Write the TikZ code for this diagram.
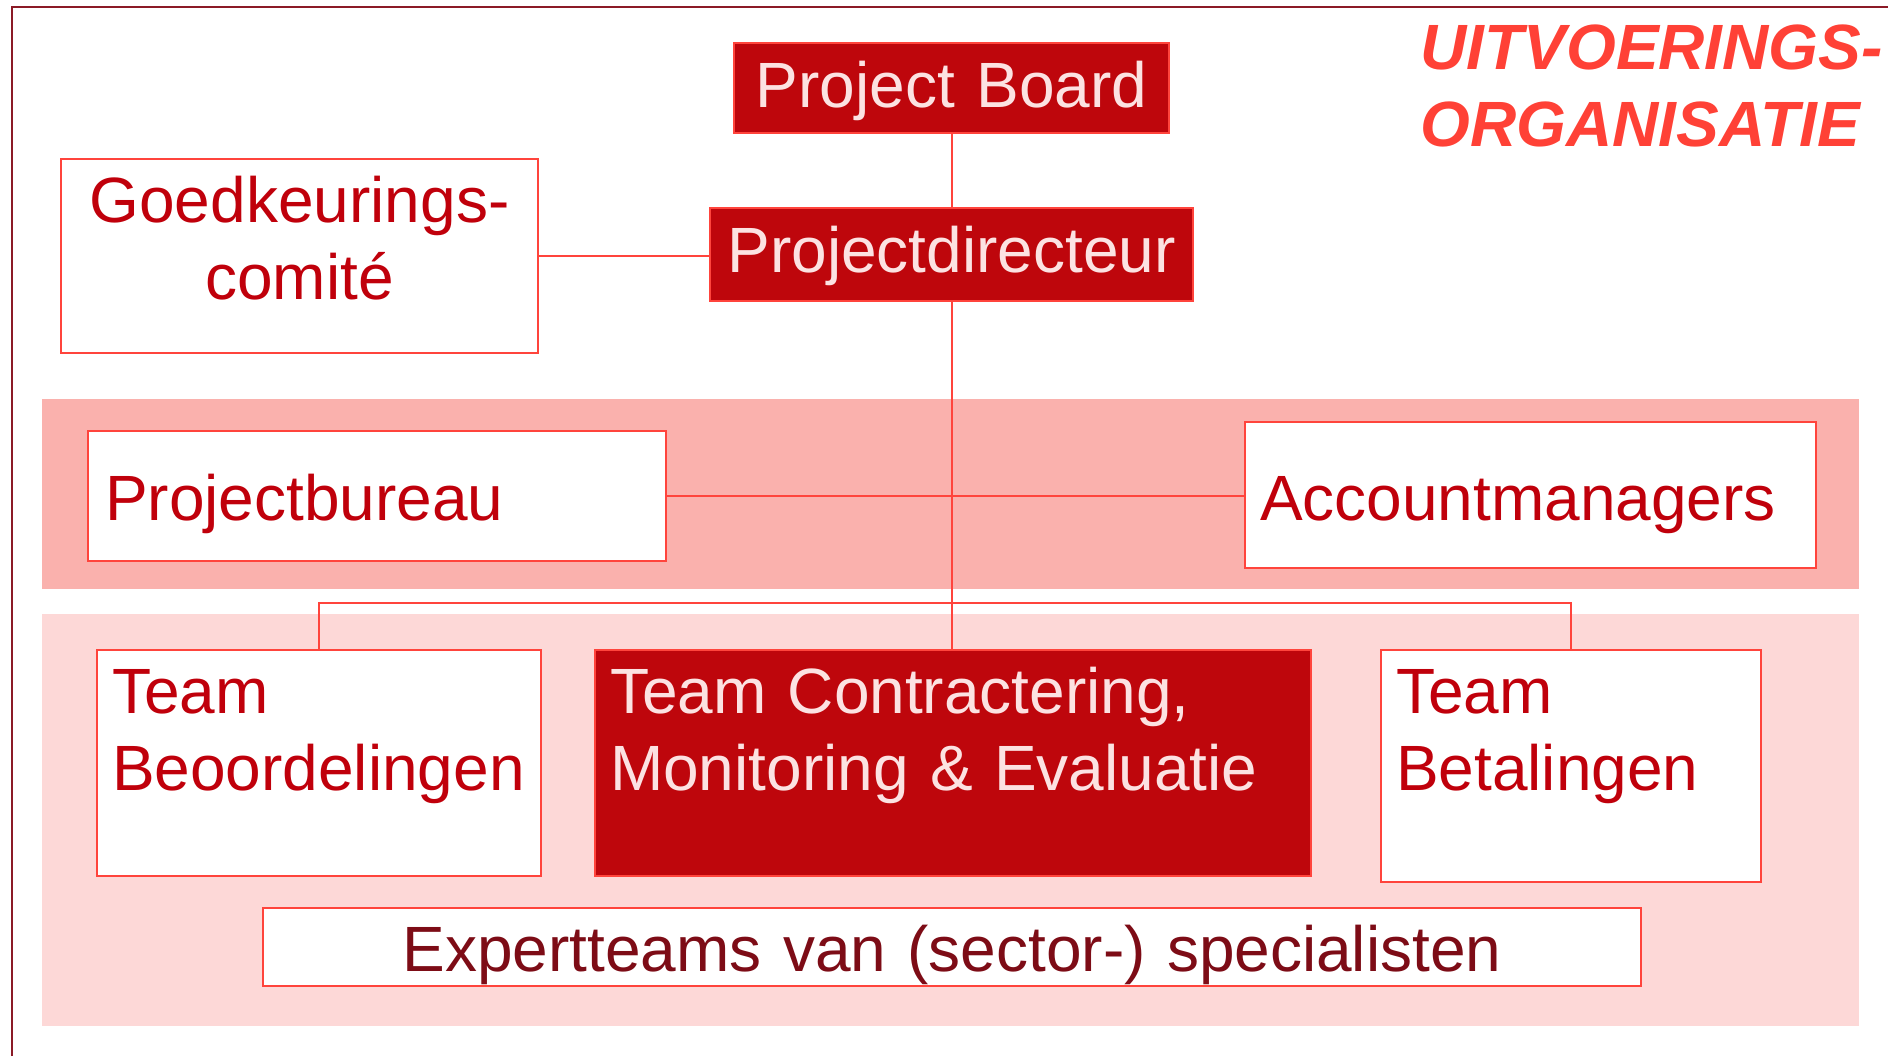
\documentclass[tikz,border=0pt]{standalone}
\usepackage{fontspec}
\setmainfont{Liberation Sans}
\usepackage{xcolor}
\definecolor{boardred}{RGB}{190,6,12}
\definecolor{inkred}{RGB}{192,0,11}
\definecolor{edgered}{RGB}{255,68,60}
\definecolor{titlered}{RGB}{255,65,54}
\definecolor{paletext}{RGB}{252,226,226}
\definecolor{bandone}{RGB}{250,177,173}
\definecolor{bandtwo}{RGB}{253,216,215}
\definecolor{expertink}{RGB}{125,12,22}
\definecolor{framered}{RGB}{139,26,38}

\begin{document}
\begin{tikzpicture}[x=0.5pt, y=-0.5pt,
        unit/.style={draw=edgered, line width=1pt, fill=white, text=inkred, inner sep=0pt,
            anchor=north west, font=\fontsize{32}{38.5}\selectfont},
        lead/.style={unit, fill=boardred, text=paletext},
        link/.style={draw=edgered, line width=1pt}]
    \useasboundingbox (0,0) rectangle (1888,1056);
    \fill[bandone] (42,399) rectangle (1859,589);
    \fill[bandtwo] (42,614) rectangle (1859,1026);
    \draw[framered, line width=1.2pt] (12,1056) -- (12,7) -- (1888,7);

    \node[text=titlered, font=\fontsize{32}{38.5}\selectfont\bfseries\itshape, align=left,
        inner sep=0pt, text width=236pt, anchor=base west] (title) at (1420,69) {UITVOERINGS-\\ORGANISATIE};

    \node[lead, align=center, text width=217.5pt, text height=32pt, text depth=13pt] (pb) at (733,42) {Project Board};
    \node[lead, align=center, text width=241.5pt, text height=32pt, text depth=14.5pt] (pd) at (709,207) {Projectdirecteur};
    \node[unit, align=center, text width=238.5pt, text height=31.5pt, text depth=65.5pt] (gk) at (60,158) {Goedkeurings-\\comité};
    \node[unit, align=left, inner xsep=8.5pt, text width=272pt, text height=44.5pt, text depth=20.5pt] (pbu) at (87,430) {Projectbureau};
    \node[unit, align=left, inner xsep=7.5pt, text width=270.5pt, text height=49pt, text depth=24pt] (am) at (1244,421) {Accountmanagers};
    \node[unit, align=left, inner xsep=7.5pt, text width=207pt, text height=31.5pt, text depth=81.5pt] (tbo) at (96,649) {Team\\Beoordelingen};
    \node[lead, align=left, inner xsep=7.5pt, text width=343pt, text height=31.5pt, text depth=81.5pt] (tcme) at (594,649) {Team Contractering,\\Monitoring \& Evaluatie};
    \node[unit, align=left, inner xsep=7.5pt, text width=175pt, text height=31.5pt, text depth=84.5pt] (tbe) at (1380,649) {Team\\Betalingen};
    \node[unit, align=center, text=expertink, text width=689pt, text height=31.5pt, text depth=7.5pt] (exp) at (262,907) {Expertteams van (sector-) specialisten};

    \coordinate (split) at (951,603);
    \draw[link] (pb.south) -- (pd.north);
    \draw[link] (gk.east) -- (gk.east -| pd.west);
    \draw[link] (pbu.east) -- (pbu.east -| am.west);
    \draw[link] (pd.south) -- (pd.south |- tcme.north);
    \draw[link] (tbo.north) |- (split) -| (tbe.north);
\end{tikzpicture}
\end{document}
